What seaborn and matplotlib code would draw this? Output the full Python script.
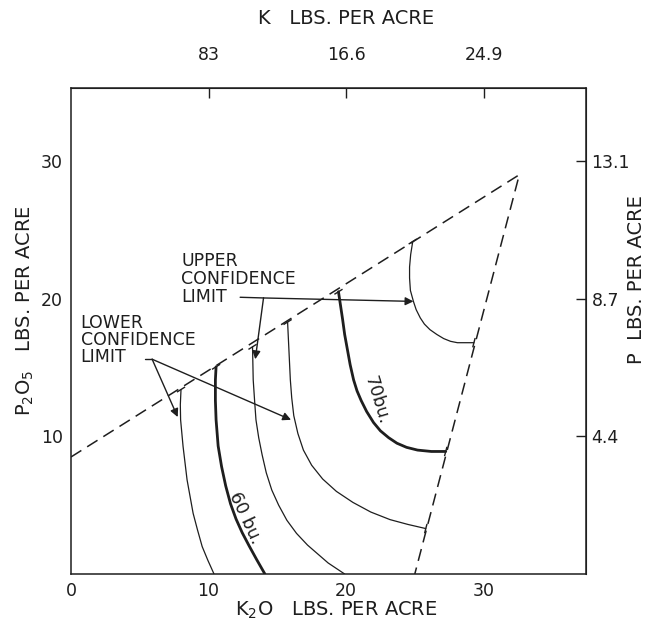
import matplotlib
matplotlib.use("Agg")
import matplotlib.pyplot as plt
import numpy as np
import seaborn as sns

# boundary of the experimental region (dashed)
boundary_x = [0.0, 32.6, 25.0]
boundary_y = [8.5, 29.0, 0.0]

# yield contours (K2O, P2O5)
lower_60_x = [8.0, 7.95, 7.97, 8.15, 8.44, 8.88, 9.2, 9.54, 9.95, 10.4]
lower_60_y = [13.4, 12.3, 11.2, 9.26, 6.84, 4.41, 3.2, 1.99, 1.0, 0.0]

bu_60_x = [10.55, 10.5, 10.5, 10.55, 10.7, 10.95, 11.25, 11.6, 12.0,
           12.45, 12.95, 13.5, 14.1]
bu_60_y = [15.05, 14.1, 12.6, 11.2, 9.3, 7.8, 6.4, 5.1, 4.0,
           3.0, 2.05, 1.05, 0.0]

upper_60_x = [13.2, 13.25, 13.35, 13.45, 13.65, 13.9, 14.2, 14.6, 15.1,
              15.7, 16.4, 17.2, 17.95, 18.7, 19.9]
upper_60_y = [16.5, 14.1, 12.6, 11.2, 9.9, 8.65, 7.35, 6.1, 5.0,
              3.9, 2.95, 2.1, 1.45, 0.8, 0.0]

lower_70_x = [15.75, 15.85, 15.95, 16.05, 16.2, 16.5, 16.9, 17.5, 18.3,
              19.3, 20.5, 21.8, 23.2, 24.5, 25.8]
lower_70_y = [18.3, 16.2, 14.1, 12.8, 11.5, 10.2, 9.0, 7.9, 6.9,
              6.0, 5.2, 4.5, 3.95, 3.6, 3.3]

bu_70_x = [19.45, 19.6, 19.75, 19.9, 20.1, 20.3, 20.55, 20.8, 21.1, 21.5,
           22.0, 22.5, 23.1, 23.7, 24.4, 25.2, 26.2, 27.25]
bu_70_y = [20.5, 19.5, 18.5, 17.4, 16.3, 15.2, 14.1, 13.3, 12.6, 11.8,
           11.0, 10.4, 9.9, 9.5, 9.2, 9.0, 8.9, 8.9]

upper_70_x = [24.85, 24.7, 24.62, 24.62, 24.68, 24.9, 25.1, 25.4, 25.7,
              26.1, 26.6, 27.1, 27.6, 28.1, 28.7, 29.3]
upper_70_y = [24.15, 23.2, 22.3, 21.5, 20.6, 19.8, 19.2, 18.6, 18.15,
              17.75, 17.4, 17.1, 16.9, 16.8, 16.8, 16.8]

curves = [
    (lower_60_x, lower_60_y, "thin"),
    (bu_60_x, bu_60_y, "thick"),
    (upper_60_x, upper_60_y, "thin"),
    (lower_70_x, lower_70_y, "thin"),
    (bu_70_x, bu_70_y, "thick"),
    (upper_70_x, upper_70_y, "thin"),
]

# axis ticks
k2o_ticks = [0, 10, 20, 30]
p2o5_ticks = [10, 20, 30]
k_ticks = [10, 20, 30]
k_labels = ["83", "16.6", "24.9"]
p_ticks = [10, 20, 30]
p_labels = ["4.4", "8.7", "13.1"]

INK = "#1e1e1e"
FS = 12.5
LFS = 14

sns.set_style("white")
plt.rcParams["font.family"] = ["DejaVu Sans"]
plt.rcParams["mathtext.fontset"] = "dejavusans"

fig = plt.figure(figsize=(6.52, 6.31), dpi=100)
ax = fig.add_axes([71 / 652, 57 / 631, 515 / 652, 486 / 631])
ax.set_xlim(0, 37.45)
ax.set_ylim(0, 35.3)

# dashed boundary
sns.lineplot(x=boundary_x, y=boundary_y, sort=False, estimator=None, ax=ax,
             color=INK, lw=1.1, dashes=False)
ax.lines[-1].set_dashes((8, 4.5))


def end_tick(x, y, dx, dy, half=0.35):
    n = np.hypot(dx, dy)
    ux, uy = dx / n * half, dy / n * half
    ax.plot([x - ux, x + ux], [y - uy, y + uy], color=INK, lw=1.0,
            solid_capstyle="butt")


up_dir = (boundary_x[1] - boundary_x[0], boundary_y[1] - boundary_y[0])
rt_dir = (boundary_x[1] - boundary_x[2], boundary_y[1] - boundary_y[2])

for cx, cy, kind in curves:
    lw = 2.0 if kind == "thick" else 0.9
    sns.lineplot(x=cx, y=cy, sort=False, estimator=None, ax=ax,
                 color=INK, lw=lw)
    end_tick(cx[0], cy[0], *up_dir)
    if cy[-1] > 0:
        end_tick(cx[-1], cy[-1], *rt_dir)

# curve labels
ax.text(22.25, 12.6, "70bu.", rotation=-73, ha="center", va="center",
        fontsize=FS, color=INK, rotation_mode="anchor")
ax.text(12.7, 4.1, "60 bu.", rotation=-65, ha="center", va="center",
        fontsize=FS, color=INK, rotation_mode="anchor")

# confidence limit notes
ax.text(8.0, 21.4, "UPPER\nCONFIDENCE\nLIMIT", ha="left", va="center",
        fontsize=FS, color=INK, linespacing=1.0)
ax.text(0.7, 17.0, "LOWER\nCONFIDENCE\nLIMIT", ha="left", va="center",
        fontsize=FS, color=INK, linespacing=0.95)

arrow = dict(arrowstyle="-|>", color=INK, lw=1.0, mutation_scale=12,
             shrinkA=0, shrinkB=0)
ax.plot([12.3, 14.0], [20.1, 20.05], color=INK, lw=1.0)
ax.annotate("", xy=(24.9, 19.8), xytext=(14.0, 20.05), arrowprops=arrow)
ax.annotate("", xy=(13.4, 15.6), xytext=(14.0, 20.05), arrowprops=arrow)
ax.plot([5.4, 5.9], [15.6, 15.6], color=INK, lw=1.0)
ax.annotate("", xy=(7.76, 11.4), xytext=(5.9, 15.6), arrowprops=arrow)
ax.annotate("", xy=(16.0, 11.2), xytext=(5.9, 15.6), arrowprops=arrow)

# axes frame and ticks
for s in ax.spines.values():
    s.set_visible(True)
    s.set_color(INK)
    s.set_linewidth(1.1)

ax.set_xticks(k2o_ticks)
ax.set_yticks(p2o5_ticks)
ax.tick_params(direction="in", length=7, width=1.0, colors=INK,
               labelsize=FS, pad=6)
ax.set_xlabel("K$_2$O   LBS. PER ACRE", fontsize=LFS, color=INK)
ax.xaxis.set_label_coords(0.515, -0.074, transform=ax.transAxes)
ax.xaxis.label.set_va("center")
ax.set_ylabel("P$_2$O$_5$   LBS. PER ACRE", fontsize=LFS, color=INK)
ax.yaxis.set_label_coords(-0.089, 0.543, transform=ax.transAxes)
ax.yaxis.label.set_va("center")

top = ax.secondary_xaxis("top")
top.set_xticks(k_ticks, labels=k_labels)
top.tick_params(direction="in", length=7, width=1.0, colors=INK,
                labelsize=FS, pad=17)
top.set_xlabel("K   LBS. PER ACRE", fontsize=LFS, color=INK)
top.xaxis.set_label_coords(0.534, 1.142, transform=ax.transAxes)
top.xaxis.label.set_va("center")

right = ax.secondary_yaxis("right")
right.set_yticks(p_ticks, labels=p_labels)
right.tick_params(direction="in", length=7, width=1.0, colors=INK,
                  labelsize=FS, pad=4)
right.set_ylabel("P  LBS. PER ACRE", fontsize=LFS, color=INK)
right.yaxis.set_label_coords(1.099, 0.605, transform=ax.transAxes)
right.yaxis.label.set_va("center")

fig.savefig("out.png", dpi=100)
